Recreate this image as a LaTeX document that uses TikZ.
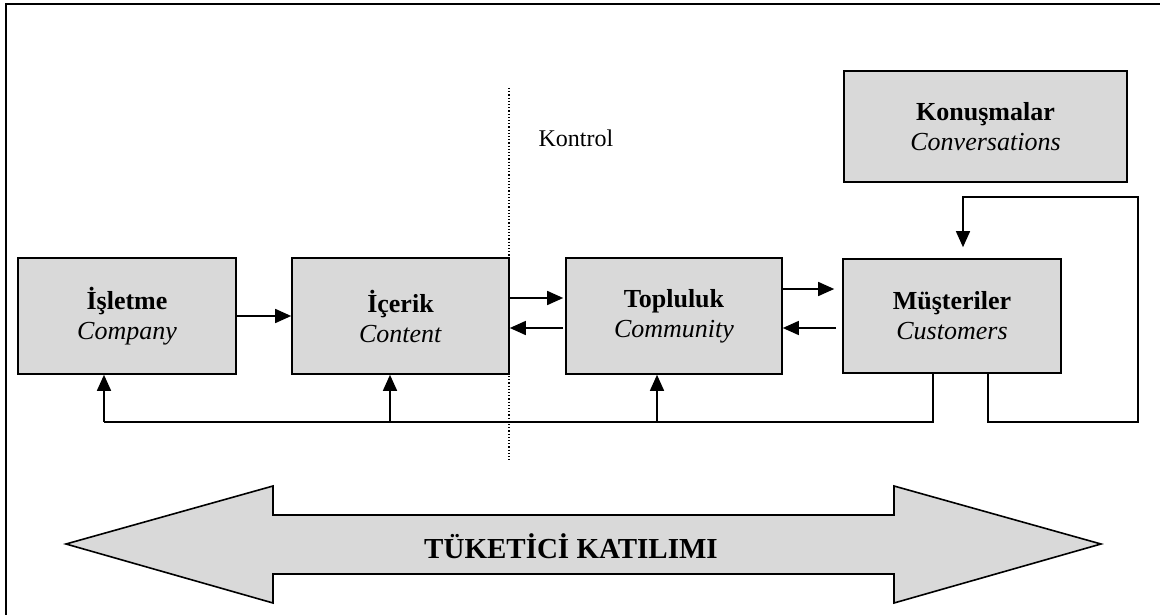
\documentclass[tikz,border=0pt]{standalone}
\usepackage{fontspec}
\setmainfont{Liberation Serif}
\usetikzlibrary{arrows.meta}
\definecolor{boxgray}{RGB}{217,217,217}

\begin{document}
\begin{tikzpicture}[x=1pt,y=-1pt,
   box/.style={draw,fill=boxgray,line width=1.6pt,align=center,inner sep=0pt,
               font=\fontsize{26}{30}\selectfont},
   line/.style={line width=1.5pt},
   conn/.style={line width=1.5pt,-{Triangle[length=16pt,width=14pt]}}]
   \useasboundingbox (0,0) rectangle (1160,615);
   % frame
   \draw[line width=2.5pt] (6,620) -- (6,4) -- (1170,4);
   % boxes
   \node[box,minimum width=218pt,minimum height=116pt] (isletme) at (127,316)
      {\textbf{İşletme}\\\textit{Company}};
   \node[box,minimum width=217pt,minimum height=116pt] (icerik) at (400.5,316)
      {\textbf{İçerik}\\\textit{Content}};
   \node[box,minimum width=216pt,minimum height=116pt] (topluluk) at (674,316)
      {\textbf{Topluluk}\\\textit{Community}};
   \node[box,minimum width=218pt,minimum height=114pt] (musteriler) at (952,316)
      {\textbf{Müşteriler}\\\textit{Customers}};
   \node[box,minimum width=283pt,minimum height=111pt] (konusmalar) at (985.5,126.5)
      {\textbf{Konuşmalar}\\\textit{Conversations}};
   % control line
   \coordinate (kt) at (509,88);
   \coordinate (kb) at (509,461);
   \draw[dotted,line width=1.2pt] (kt) -- (kb);
   \node[anchor=base west,font=\fontsize{24}{28}\selectfont] (kontrol) at (535,147) {Kontrol};
   % forward and back arrows
   \draw[conn] (isletme.east) -- (icerik.west);
   \draw[conn,shorten >=2pt] ([yshift=18pt]icerik.east) -- ([yshift=18pt]topluluk.west);
   \draw[conn,shorten <=2pt] ([yshift=-12pt]topluluk.west) -- ([yshift=-12pt]icerik.east);
   \draw[conn,shorten >=8pt] ([yshift=27pt]topluluk.east) -- ([yshift=27pt]musteriler.west);
   \draw[conn,shorten <=6pt] ([yshift=-12pt]musteriler.west) -- ([yshift=-12pt]topluluk.east);
   % bottom feedback
   \coordinate (j1) at (104,422);
   \coordinate (j2) at (390,422);
   \coordinate (j3) at (657,422);
   \draw[line] ([xshift=-19pt]musteriler.south) |- (j1);
   \draw[conn] (j1) -- (j1 |- isletme.south);
   \draw[conn] (j2) -- (j2 |- icerik.south);
   \draw[conn] (j3) -- (j3 |- topluluk.south);
   % loop to conversations
   \coordinate (r1) at (1138,422);
   \coordinate (r2) at (1138,197);
   \draw[conn,shorten >=11pt] ([xshift=36pt]musteriler.south) |- (r1) -- (r2)
      -| ([xshift=11pt]musteriler.north);
   % consumer participation arrow
   \draw[fill=boxgray,line width=1.6pt] (66,544) -- (273,486) -- (273,515) -- (894,515)
      -- (894,486) -- (1101,544) -- (894,603) -- (894,574) -- (273,574) -- (273,603) -- cycle;
   \node[font=\bfseries\fontsize{29}{34}\selectfont] (katilim) at (571,546) {TÜKETİCİ KATILIMI};
\end{tikzpicture}
\end{document}
